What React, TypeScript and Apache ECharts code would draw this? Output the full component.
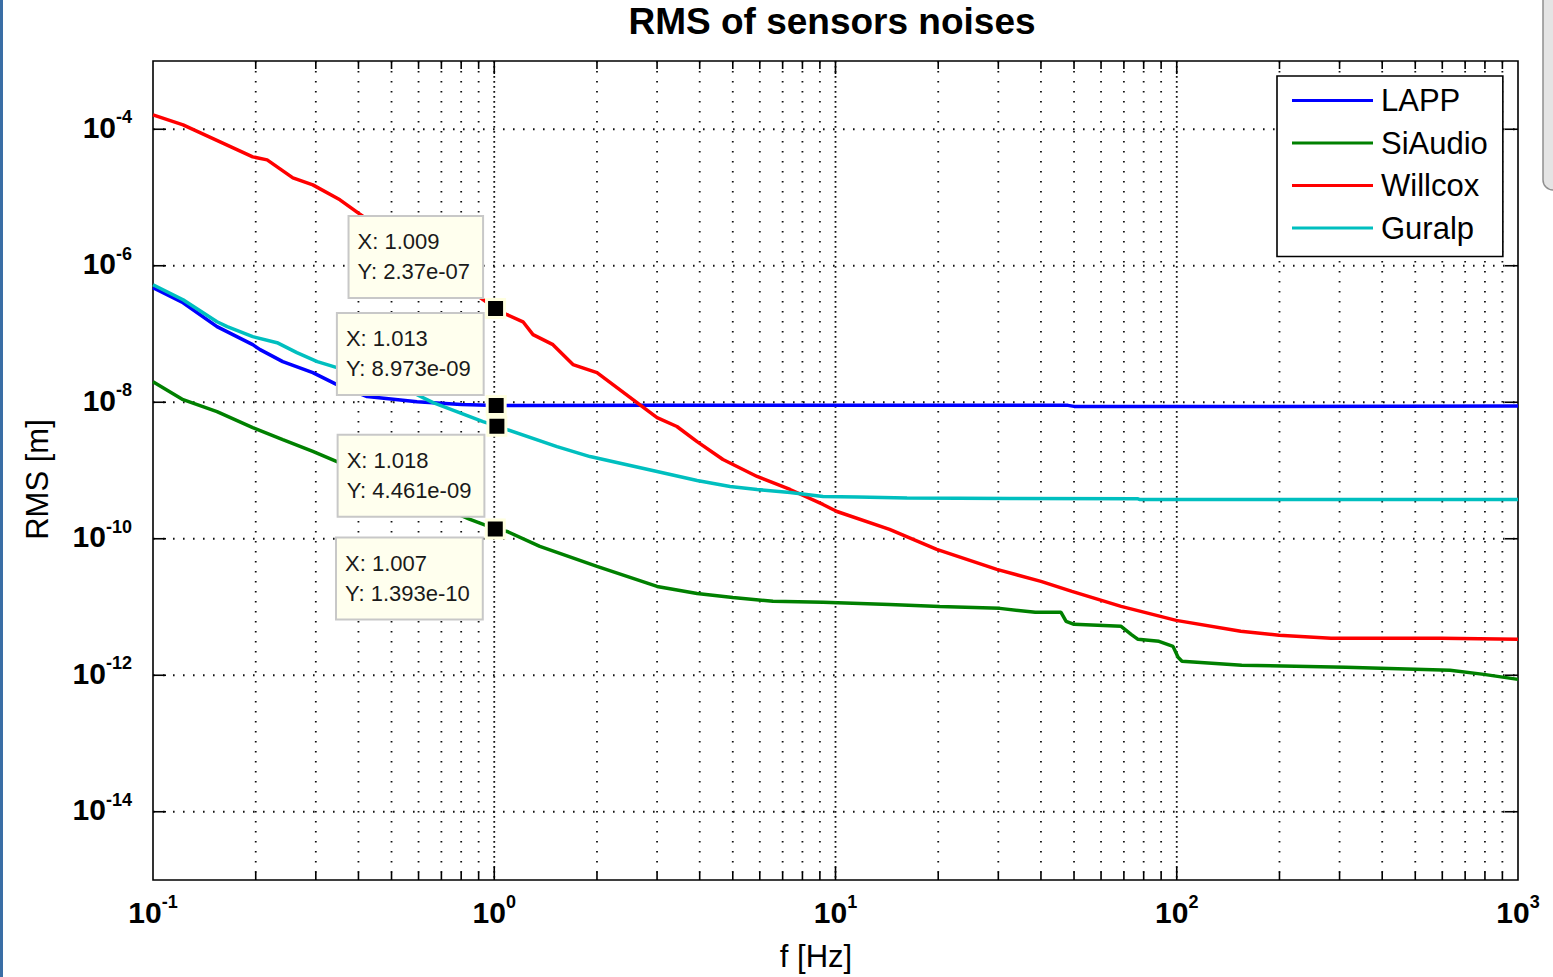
import React, { useEffect, useRef } from 'react';
import * as echarts from 'echarts';

const FONT = '"Liberation Sans", Arial, Helvetica, sans-serif';

const seriesNames = ['LAPP', 'SiAudio', 'Willcox', 'Guralp'];
const seriesColors = ['#0000ff', '#008000', '#ff0000', '#00bfbf'];

// [frequency Hz, RMS m]
const lappData: [number, number][] = [
  [0.1, 4.77e-7], [0.1225, 2.87e-7], [0.154, 1.28e-7], [0.196, 6.98e-8], [0.206, 5.9e-8],
  [0.24, 3.94e-8], [0.294, 2.72e-8], [0.346, 1.81e-8], [0.424, 1.21e-8], [0.594, 1.02e-8],
  [0.8, 9.3e-9], [1.013, 8.973e-9], [3, 9.0e-9], [10, 9.0e-9], [48, 9.0e-9], [50, 8.7e-9],
  [200, 8.7e-9], [1000, 8.8e-9],
];

const siAudioData: [number, number][] = [
  [0.1, 2.0e-8], [0.1225, 1.09e-8], [0.154, 7.3e-9], [0.196, 4.26e-9], [0.24, 2.84e-9],
  [0.294, 1.9e-9], [0.346, 1.35e-9], [0.849, 1.92e-10], [1.007, 1.393e-10], [1.09, 1.28e-10],
  [1.36, 7.72e-11], [2.0, 3.93e-11], [3.0, 2.0e-11], [3.93, 1.58e-11], [5.0, 1.38e-11],
  [6.56, 1.21e-11], [9.19, 1.17e-11], [14.4, 1.09e-11], [20.2, 1.02e-11], [30.3, 9.55e-12],
  [38.5, 8.35e-12], [45.8, 8.35e-12], [47.4, 6.17e-12], [50, 5.57e-12], [68.7, 5.21e-12],
  [73.5, 3.98e-12], [77, 3.36e-12], [88.7, 3.14e-12], [97.5, 2.65e-12], [100.9, 1.83e-12],
  [103.6, 1.6e-12], [155, 1.4e-12], [313, 1.31e-12], [632, 1.18e-12], [794, 1.03e-12],
  [1000, 8.7e-13],
];

const willcoxData: [number, number][] = [
  [0.1, 1.62e-4], [0.1225, 1.16e-4], [0.196, 3.94e-5], [0.216, 3.56e-5], [0.257, 1.94e-5],
  [0.294, 1.53e-5], [0.353, 9.25e-6], [0.399, 5.96e-6], [1.009, 2.37e-7], [1.09, 1.92e-7],
  [1.214, 1.51e-7], [1.299, 9.77e-8], [1.486, 6.98e-8], [1.701, 3.56e-8], [2.0, 2.72e-8],
  [2.62, 9.89e-9], [3.0, 5.96e-9], [3.43, 4.41e-9], [3.93, 2.65e-9], [4.68, 1.45e-9],
  [5.89, 8.17e-10], [7.36, 5.27e-10], [9.19, 3.18e-10], [10.1, 2.51e-10], [14.4, 1.37e-10],
  [19.8, 6.97e-11], [29.7, 3.56e-11], [40, 2.37e-11], [49.3, 1.69e-11], [68.7, 1.02e-11],
  [99.6, 6.37e-12], [154, 4.4e-12], [199.5, 3.85e-12], [283, 3.48e-12], [594, 3.48e-12],
  [1000, 3.36e-12],
];

const guralpData: [number, number][] = [
  [0.1, 5.27e-7], [0.1225, 3.18e-7], [0.154, 1.51e-7], [0.165, 1.28e-7], [0.196, 9.14e-8],
  [0.231, 7.46e-8], [0.264, 5.33e-8], [0.303, 3.94e-8], [0.346, 3.21e-8], [0.594, 1.29e-8],
  [0.662, 9.88e-9], [0.927, 5.21e-9], [1.018, 4.461e-9], [1.09, 3.98e-9], [1.527, 2.24e-9],
  [1.908, 1.6e-9], [3.0, 9.66e-10], [3.93, 7.13e-10], [4.91, 5.83e-10], [5.89, 5.27e-10],
  [7.36, 4.76e-10], [9.19, 4.16e-10], [11.6, 4.1e-10], [16.2, 3.95e-10], [32.4, 3.9e-10],
  [77, 3.85e-10], [78, 3.75e-10], [1000, 3.75e-10],
];

const seriesData = [lappData, siAudioData, willcoxData, guralpData];

// Data tips (series index, x, y, text, placement)
const tipSeries = [2, 0, 3, 1];
const tipX = [1.009, 1.013, 1.018, 1.007];
const tipY = [2.37e-7, 8.973e-9, 4.461e-9, 1.393e-10];
const tipXText = ['1.009', '1.013', '1.018', '1.007'];
const tipYText = ['2.37e-07', '8.973e-09', '4.461e-09', '1.393e-10'];
const tipAbove = [true, true, false, false];

// Axis ticks / grid
const xMinorTicks = [
  0.2, 0.3, 0.4, 0.5, 0.6, 0.7, 0.8, 0.9,
  2, 3, 4, 5, 6, 7, 8, 9,
  20, 30, 40, 50, 60, 70, 80, 90,
  200, 300, 400, 500, 600, 700, 800, 900,
];
const xMajorTicks = [1, 10, 100];
const yMajorTicks = [1e-14, 1e-12, 1e-10, 1e-8, 1e-6, 1e-4];

const DOT = [1.6, 8.4];
const GRID_COLOR = '#111';

function renderXGrid(major: boolean) {
  return (params: any, api: any) => {
    const cs = params.coordSys;
    const x = api.coord([api.value(0), api.value(1)])[0];
    const top = cs.y;
    const bottom = cs.y + cs.height;
    const tick = major ? 13 : 8;
    return {
      type: 'group',
      children: [
        { type: 'line', shape: { x1: x, y1: top, x2: x, y2: bottom }, style: { stroke: GRID_COLOR, lineWidth: 1.8, lineDash: major ? [1.8, 3.2] : DOT } },
        { type: 'line', shape: { x1: x, y1: bottom, x2: x, y2: bottom - tick }, style: { stroke: '#000', lineWidth: 1.6 } },
        { type: 'line', shape: { x1: x, y1: top, x2: x, y2: top + tick }, style: { stroke: '#000', lineWidth: 1.6 } },
      ],
    };
  };
}

function renderYGrid(params: any, api: any) {
  const cs = params.coordSys;
  const y = api.coord([api.value(0), api.value(1)])[1];
  const L = cs.x;
  const R = cs.x + cs.width;
  return {
    type: 'group',
    children: [
      { type: 'line', shape: { x1: L, y1: y, x2: R, y2: y }, style: { stroke: GRID_COLOR, lineWidth: 1.8, lineDash: DOT } },
      { type: 'line', shape: { x1: L, y1: y, x2: L + 13, y2: y }, style: { stroke: '#000', lineWidth: 1.6 } },
      { type: 'line', shape: { x1: R - 13, y1: y, x2: R, y2: y }, style: { stroke: '#000', lineWidth: 1.6 } },
    ],
  };
}

const powLabel = (v: number) => `{b|10}{s|${Math.round(Math.log10(v))}}`;
const powRich = {
  b: { fontSize: 30, fontWeight: 'bold', fontFamily: FONT, color: '#000', lineHeight: 34, verticalAlign: 'bottom' },
  s: { fontSize: 18, fontWeight: 'bold', fontFamily: FONT, color: '#000', lineHeight: 24, verticalAlign: 'top' },
};

export default function App() {
  const ref = useRef<HTMLDivElement>(null);
  useEffect(() => {
    if (!ref.current) return;
    const chart = echarts.init(ref.current, null, { renderer: 'svg' });

    const lineSeries = seriesNames.map((name, i) => {
      const tips = tipSeries.map((s, k) => (s === i ? k : -1)).filter((k) => k >= 0);
      const s: any = {
        name,
        type: 'line',
        data: seriesData[i],
        symbol: 'none',
        lineStyle: { width: 3.5, color: seriesColors[i] },
        itemStyle: { color: seriesColors[i] },
        silent: true,
        z: 3,
      };
      if (tips.length) {
        s.markPoint = {
          symbol: 'rect',
          symbolSize: 18,
          silent: true,
          itemStyle: { color: '#000', borderColor: '#ffffe0', borderWidth: 3 },
          data: tips.map((k) => ({
            coord: [tipX[k], tipY[k]],
            label: {
              show: true,
              formatter: `{t|X: ${tipXText[k]}}\n{t|Y: ${tipYText[k]}}`,
              rich: { t: { fontSize: 22, lineHeight: 30, color: '#1a1a1a', fontFamily: FONT, align: 'left' } },
              position: tipAbove[k] ? [-3, -1] : [-3, 20],
              align: 'right',
              verticalAlign: tipAbove[k] ? 'bottom' : 'top',
              backgroundColor: '#ffffee',
              borderColor: '#c8c8c8',
              borderWidth: 2,
              padding: [10, 12, 10, 8],
            },
          })),
        };
      }
      return s;
    });

    const option: any = {
      animation: false,
      backgroundColor: '#fff',
      grid: {
        left: 153, top: 61, width: 1365, height: 820,
        show: true, borderColor: '#000', borderWidth: 1.6, backgroundColor: '#fff',
      },
      xAxis: {
        type: 'log', logBase: 10, min: 0.1, max: 1000, interval: 1,
        name: 'f [Hz]', nameLocation: 'middle', nameGap: 61,
        nameTextStyle: { fontSize: 31, fontFamily: FONT, color: '#000', padding: [0, 39, 0, 0] },
        axisLine: { show: false }, axisTick: { show: false }, splitLine: { show: false },
        axisLabel: { formatter: powLabel, rich: powRich, margin: 13 },
      },
      yAxis: {
        type: 'log', logBase: 10, min: 1e-15, max: 1e-3, interval: 1,
        name: 'RMS [m]', nameLocation: 'middle', nameGap: 100,
        nameTextStyle: { fontSize: 31, fontFamily: FONT, color: '#000', padding: [0, 18, 0, 0] },
        axisLine: { show: false }, axisTick: { show: false }, splitLine: { show: false },
        axisLabel: {
          formatter: (v: number) => {
            const e = Math.round(Math.log10(v));
            return e % 2 === 0 ? powLabel(v) : '';
          },
          rich: powRich, margin: 21, padding: [0, 0, 8, 0],
        },
      },
      legend: {
        data: seriesNames, orient: 'vertical', left: 1277, top: 76,
        icon: 'rect',
        itemWidth: 81, itemHeight: 3, itemGap: 11.5,
        padding: [9, 15, 13, 15],
        borderColor: '#000', borderWidth: 1.6, backgroundColor: '#fff',
        textStyle: { fontSize: 31, fontFamily: FONT, color: '#000', lineHeight: 30, padding: [0, 0, 0, 3] },
        selectedMode: false,
        z: 10,
      },
      graphic: [
        { type: 'rect', shape: { x: 0, y: 0, width: 3, height: 977 }, style: { fill: '#3a6ea5' }, silent: true },
        { type: 'rect', shape: { x: 1543, y: -12, width: 24, height: 202, r: [0, 0, 0, 10] }, style: { fill: '#e4e4e4', stroke: '#8f8f8f', lineWidth: 1.5 }, silent: true },
        {
          type: 'text', x: 832, y: 3, silent: true,
          style: { text: 'RMS of sensors noises', fontSize: 37, fontWeight: 'bold', fontFamily: FONT, fill: '#000', textAlign: 'center', textVerticalAlign: 'top' },
        },
      ],
      series: [
        { type: 'custom', name: 'xminor', coordinateSystem: 'cartesian2d', renderItem: renderXGrid(false), data: xMinorTicks.map((v) => [v, 1e-9]), silent: true, z: 1 },
        { type: 'custom', name: 'xmajor', coordinateSystem: 'cartesian2d', renderItem: renderXGrid(true), data: xMajorTicks.map((v) => [v, 1e-9]), silent: true, z: 1 },
        { type: 'custom', name: 'ymajor', coordinateSystem: 'cartesian2d', renderItem: renderYGrid, data: yMajorTicks.map((v) => [1, v]), silent: true, z: 1 },
        ...lineSeries,
      ],
    };
    chart.setOption(option);
    return () => chart.dispose();
  }, []);
  return <div ref={ref} style={{ position: 'fixed', left: 0, top: 0, width: 1553, height: 977, background: '#fff' }} />;
}
